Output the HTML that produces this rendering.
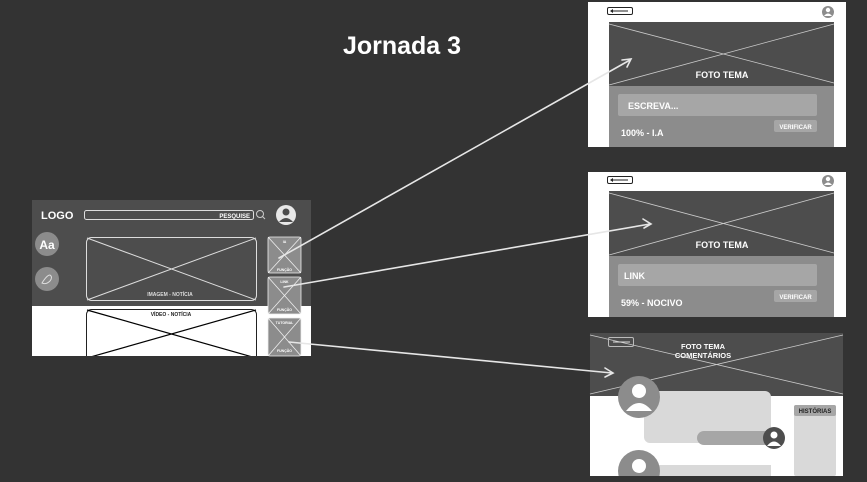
<!DOCTYPE html>
<html><head><meta charset="utf-8"><style>
html,body{margin:0;padding:0;background:#333;}
svg{display:block}
text{font-family:"Liberation Sans",sans-serif;font-weight:bold}
</style></head><body>
<svg width="867" height="482" viewBox="0 0 867 482" xmlns="http://www.w3.org/2000/svg">
<defs><clipPath id="c1"><rect x="32" y="200" width="279" height="156"/></clipPath></defs>
<rect width="867" height="482" fill="#333"/>
<text x="402" y="54" font-size="25" fill="#fff" text-anchor="middle">Jornada 3</text>

<!-- main screen -->
<rect x="32" y="200" width="279" height="156" fill="#fff"/>
<rect x="32" y="200" width="279" height="106" fill="#4d4d4d"/>
<text x="41" y="219" font-size="11" fill="#fff">LOGO</text>
<rect x="84.5" y="210.5" width="169" height="9" rx="2" fill="none" stroke="#ddd" stroke-width="1"/>
<text x="250" y="218" font-size="6" fill="#fff" text-anchor="end">PESQUISE</text>
<circle cx="260" cy="214" r="3.5" fill="none" stroke="#ccc" stroke-width="1"/>
<line x1="262.5" y1="216.5" x2="265" y2="219" stroke="#ccc"/>
<circle cx="286" cy="215" r="10" fill="#e8e8e8"/>
<circle cx="286" cy="212" r="3.5" fill="#4d4d4d"/>
<path d="M279 222 Q286 214 293 222 Z" fill="#4d4d4d"/>
<circle cx="47" cy="244" r="12" fill="#8c8c8c"/>
<text x="47" y="249" font-size="12" fill="#fff" text-anchor="middle">Aa</text>
<circle cx="47" cy="279" r="12" fill="#8c8c8c"/>
<path d="M42 283 q5 -8 8 -8 q3 2 0 6 q-4 4 -8 2z" fill="none" stroke="#ddd" stroke-width="1"/>
<rect x="86.5" y="237.5" width="170" height="63" rx="5" fill="none" stroke="#ddd" stroke-width="1"/>
<line x1="87" y1="238" x2="256" y2="300" stroke="#ddd"/>
<line x1="87" y1="300" x2="256" y2="238" stroke="#ddd"/>
<text x="170" y="296" font-size="5" fill="#ddd" text-anchor="middle">IMAGEM - NOTÍCIA</text>
<g clip-path="url(#c1)">
<rect x="86.5" y="309.5" width="170" height="55" rx="5" fill="none" stroke="#222" stroke-width="1"/>
<line x1="87" y1="310" x2="256" y2="358" stroke="#000" stroke-width="1.2"/>
<line x1="87" y1="358" x2="256" y2="310" stroke="#000" stroke-width="1.2"/>
</g>
<text x="171" y="316" font-size="5" fill="#222" text-anchor="middle">VÍDEO - NOTÍCIA</text>
<g fill="#8c8c8c" stroke="#eee" stroke-width="0.8">
<rect x="268" y="237" width="33" height="36" rx="2"/>
<rect x="268" y="277" width="33" height="37" rx="2"/>
<rect x="268" y="318" width="33" height="38" rx="2"/>
</g>
<g stroke="#eee" stroke-width="0.8">
<line x1="268" y1="237" x2="301" y2="273"/><line x1="268" y1="273" x2="301" y2="237"/>
<line x1="268" y1="277" x2="301" y2="314"/><line x1="268" y1="314" x2="301" y2="277"/>
<line x1="268" y1="318" x2="301" y2="356"/><line x1="268" y1="356" x2="301" y2="318"/>
</g>
<g font-size="3.5" fill="#fff" text-anchor="middle">
<text x="284.5" y="243">IA</text><text x="284.5" y="271">FUNÇÃO</text>
<text x="284.5" y="283">LINK</text><text x="284.5" y="311">FUNÇÃO</text>
<text x="284.5" y="324">TUTORIAL</text><text x="284.5" y="352">FUNÇÃO</text>
</g>

<!-- screen 1 -->
<rect x="588" y="2" width="258" height="145" fill="#fff"/>
<rect x="609" y="22" width="225" height="64" fill="#4d4d4d"/>
<line x1="609" y1="24" x2="834" y2="83" stroke="#ccc" stroke-width="0.8"/>
<line x1="609" y1="85" x2="834" y2="24" stroke="#ccc" stroke-width="0.8"/>
<text x="722" y="78" font-size="9" fill="#fff" text-anchor="middle">FOTO TEMA</text>
<rect x="609" y="86" width="225" height="61" fill="#8c8c8c"/>
<rect x="618" y="94" width="199" height="22" rx="2" fill="#a6a6a6"/>
<text x="628" y="109" font-size="9" fill="#fff">ESCREVA...</text>
<rect x="774" y="120" width="43" height="12" rx="2" fill="#a6a6a6"/>
<text x="795.5" y="129" font-size="6" fill="#fff" text-anchor="middle">VERIFICAR</text>
<text x="621" y="136" font-size="9" fill="#fff">100% - I.A</text>
<rect x="607.5" y="7.5" width="25" height="7" rx="1.5" fill="none" stroke="#222"/>
<line x1="611" y1="11" x2="628" y2="11" stroke="#222"/><path d="M610 11 l3 -2 v4z" fill="#222"/>
<circle cx="828" cy="12" r="6" fill="#8c8c8c"/><circle cx="828" cy="10" r="2.2" fill="#fff"/><path d="M824 16 q4 -5 8 0z" fill="#fff"/>

<!-- screen 2 -->
<rect x="588" y="172" width="258" height="145" fill="#fff"/>
<rect x="609" y="191" width="225" height="65" fill="#4d4d4d"/>
<line x1="609" y1="193" x2="834" y2="253" stroke="#ccc" stroke-width="0.8"/>
<line x1="609" y1="255" x2="834" y2="193" stroke="#ccc" stroke-width="0.8"/>
<text x="722" y="248" font-size="9" fill="#fff" text-anchor="middle">FOTO TEMA</text>
<rect x="609" y="256" width="225" height="61" fill="#8c8c8c"/>
<rect x="618" y="264" width="199" height="22" rx="2" fill="#a6a6a6"/>
<text x="624" y="279" font-size="9" fill="#fff">LINK</text>
<rect x="774" y="290" width="43" height="12" rx="2" fill="#a6a6a6"/>
<text x="795.5" y="299" font-size="6" fill="#fff" text-anchor="middle">VERIFICAR</text>
<text x="621" y="306" font-size="9" fill="#fff">59% - NOCIVO</text>
<rect x="607.5" y="176.5" width="25" height="7" rx="1.5" fill="none" stroke="#222"/>
<line x1="611" y1="180" x2="628" y2="180" stroke="#222"/><path d="M610 180 l3 -2 v4z" fill="#222"/>
<circle cx="828" cy="181" r="6" fill="#8c8c8c"/><circle cx="828" cy="179" r="2.2" fill="#fff"/><path d="M824 185 q4 -5 8 0z" fill="#fff"/>

<!-- screen 3 -->
<rect x="590" y="333" width="253" height="143" fill="#fff"/>
<rect x="590" y="333" width="253" height="63" fill="#4d4d4d"/>
<line x1="590" y1="335" x2="843" y2="394" stroke="#ccc" stroke-width="0.8"/>
<line x1="590" y1="394" x2="843" y2="335" stroke="#ccc" stroke-width="0.8"/>
<rect x="608.5" y="337.5" width="25" height="9" rx="1.5" fill="none" stroke="#bbb"/>
<line x1="613" y1="342" x2="630" y2="342" stroke="#ddd"/>
<text x="703" y="349" font-size="7.5" fill="#fff" text-anchor="middle">FOTO TEMA</text>
<text x="703" y="358" font-size="7.5" fill="#fff" text-anchor="middle">COMENTÁRIOS</text>
<rect x="644" y="391" width="127" height="52" rx="6" fill="#d9d9d9"/>
<rect x="697" y="431" width="78" height="14" rx="7" fill="#a6a6a6"/>
<circle cx="774" cy="438" r="11" fill="#4d4d4d"/>
<circle cx="774" cy="435" r="3.5" fill="#fff"/><path d="M767 446 q7 -9 14 0z" fill="#fff"/>
<circle cx="639" cy="397" r="21" fill="#8c8c8c"/>
<circle cx="639" cy="391" r="7" fill="#fff"/><path d="M626 411 q13 -16 26 0z" fill="#fff"/>
<rect x="644" y="465" width="127" height="11" rx="0" fill="#d9d9d9"/>
<circle cx="639" cy="471" r="21" fill="#8c8c8c"/>
<circle cx="639" cy="466" r="7" fill="#fff"/>
<rect x="590" y="476" width="253" height="6" fill="#333"/>
<rect x="794" y="405" width="42" height="71" rx="2" fill="#d9d9d9"/>
<rect x="794" y="405" width="42" height="11" rx="2" fill="#a6a6a6"/>
<text x="815" y="413" font-size="6" fill="#222" text-anchor="middle">HISTÓRIAS</text>

<!-- connectors -->
<g stroke="#e6e6e6" stroke-width="1.6" fill="none" stroke-linecap="round">
<line x1="279" y1="258" x2="630" y2="60"/>
<path d="M622 60 L631 59 L627 67"/>
<line x1="284" y1="287" x2="650" y2="224"/>
<path d="M643 219 L651 224 L644 228"/>
<line x1="289" y1="342" x2="612" y2="373"/>
<path d="M605 368 L613 373 L605 377"/>
</g>
</svg>
</body></html>
